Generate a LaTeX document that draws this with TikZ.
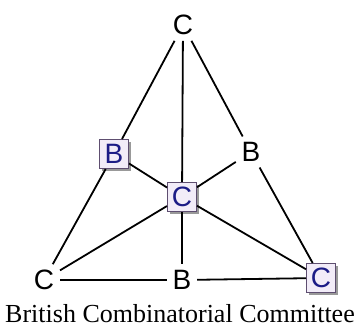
\documentclass[tikz,border=0pt]{standalone}
\usepackage{fontspec}
\setmainfont{Liberation Serif}
\setsansfont{Liberation Sans}
\usetikzlibrary{shadows}
\definecolor{boxfill}{HTML}{F2ECF8}
\definecolor{boxline}{HTML}{5E4E70}
\definecolor{boxtext}{HTML}{1C1C86}
\begin{document}
\begin{tikzpicture}[x=1pt,y=-1pt,line width=1.8pt,
  lbl/.style={font=\sffamily\fontsize{28}{28}\selectfont,inner sep=5pt},
  boxlbl/.style={lbl,draw=boxline,line width=1pt,fill=boxfill,text=boxtext,
    minimum size=29pt,inner sep=0pt,
    drop shadow={shadow xshift=2.5pt,shadow yshift=-2.5pt,fill=black!40,opacity=1}}]
\useasboundingbox (0,0) rectangle (354,327);
\node[lbl] (top) at (183,25) {C};
\node[lbl] (rb) at (251,152) {B};
\node[lbl] (bl) at (44,280) {C};
\node[lbl] (bb) at (182,280) {B};
\draw (top) -- (rb); \draw (bl) -- (bb);
\node[boxlbl] (lb) at (114,154) {B};
\node[boxlbl] (cc) at (182,197) {C};
\node[boxlbl] (br) at (321,278) {C};
\draw (top) -- (lb); \draw (top) -- (cc); \draw (lb) -- (cc); \draw (rb) -- (cc);
\draw (lb) -- (bl); \draw (rb) -- (br); \draw (cc) -- (bl); \draw (cc) -- (br);
\draw (cc) -- (bb); \draw (bb) -- (br);
\node[font=\fontsize{26}{26}\selectfont,anchor=base,inner sep=0pt] (cap) at (180,322) {British Combinatorial Committee};
\end{tikzpicture}
\end{document}
